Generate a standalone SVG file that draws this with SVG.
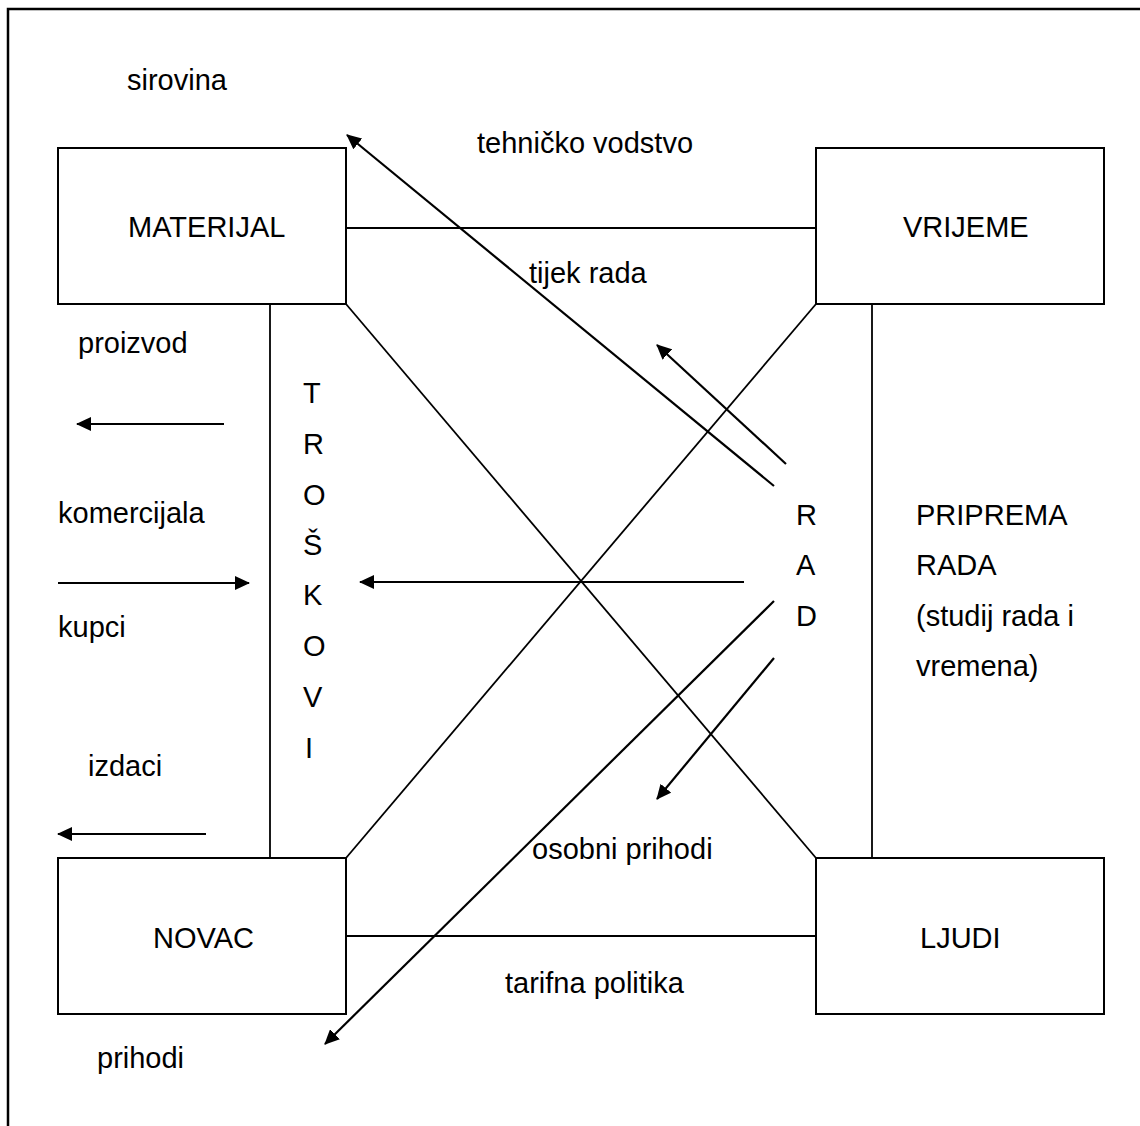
<svg xmlns="http://www.w3.org/2000/svg" width="1140" height="1126" viewBox="0 0 1140 1126">
<style>
text{font-family:"Liberation Sans",Arial,sans-serif;font-size:29px;fill:#000}
.box{fill:#fff;stroke:#000;stroke-width:2}
.ln{stroke:#000;stroke-width:1.8;fill:none}
.ar{stroke:#000;stroke-width:2.2;fill:none;marker-end:url(#ah)}
.frame{stroke:#000;stroke-width:2.5;fill:none}
</style>
<defs>
<marker id="ah" viewBox="0 0 15 14" refX="14" refY="7" markerWidth="15" markerHeight="14" markerUnits="userSpaceOnUse" orient="auto">
<path d="M0,0 L15,7 L0,14 z" fill="#000"/>
</marker>
</defs>
<rect width="1140" height="1126" fill="#fff"/>
<path class="frame" d="M8,1126 L8,9 L1140,9"/>
<g id="connectors">
<line class="ln" x1="346" y1="228" x2="816" y2="228"/>
<line class="ln" x1="346" y1="936" x2="816" y2="936"/>
<line class="ln" x1="270" y1="304" x2="270" y2="858"/>
<line class="ln" x1="872" y1="304" x2="872" y2="858"/>
<line class="ln" x1="346" y1="304" x2="816" y2="858"/>
<line class="ln" x1="816" y1="304" x2="346" y2="858"/>
<line class="ar" x1="774" y1="486" x2="347" y2="135"/>
<line class="ar" x1="786" y1="464" x2="657" y2="345"/>
<line class="ar" x1="744" y1="582" x2="360" y2="582"/>
<line class="ar" x1="774" y1="601" x2="325" y2="1044"/>
<line class="ar" x1="774" y1="658" x2="657" y2="799"/>
<line class="ar" x1="224" y1="424" x2="77" y2="424"/>
<line class="ar" x1="58" y1="583" x2="249" y2="583"/>
<line class="ar" x1="206" y1="834" x2="58" y2="834"/>
</g>
<g id="materijal"><rect class="box" x="58" y="148" width="288" height="156"/><text x="128" y="237">MATERIJAL</text></g>
<g id="vrijeme"><rect class="box" x="816" y="148" width="288" height="156"/><text x="903" y="237">VRIJEME</text></g>
<g id="novac"><rect class="box" x="58" y="858" width="288" height="156"/><text x="153" y="948">NOVAC</text></g>
<g id="ljudi"><rect class="box" x="816" y="858" width="288" height="156"/><text x="920" y="948">LJUDI</text></g>
<g id="labels">
<text x="127" y="90">sirovina</text>
<text x="477" y="153">tehničko vodstvo</text>
<text x="529" y="283">tijek rada</text>
<text x="78" y="353">proizvod</text>
<text x="58" y="523">komercijala</text>
<text x="58" y="637">kupci</text>
<text x="88" y="776">izdaci</text>
<text x="532" y="859">osobni prihodi</text>
<text x="505" y="993">tarifna politika</text>
<text x="97" y="1068">prihodi</text>
</g>
<g id="troskovi">
<text x="303" y="403">T</text>
<text x="303" y="454">R</text>
<text x="303" y="505">O</text>
<text x="303" y="555">Š</text>
<text x="303" y="605">K</text>
<text x="303" y="656">O</text>
<text x="303" y="707">V</text>
<text x="305" y="758">I</text>
</g>
<g id="rad">
<text x="796" y="525">R</text>
<text x="796" y="575">A</text>
<text x="796" y="626">D</text>
</g>
<g id="priprema">
<text x="916" y="525">PRIPREMA</text>
<text x="916" y="575">RADA</text>
<text x="916" y="626">(studij rada i</text>
<text x="916" y="676">vremena)</text>
</g>
</svg>
